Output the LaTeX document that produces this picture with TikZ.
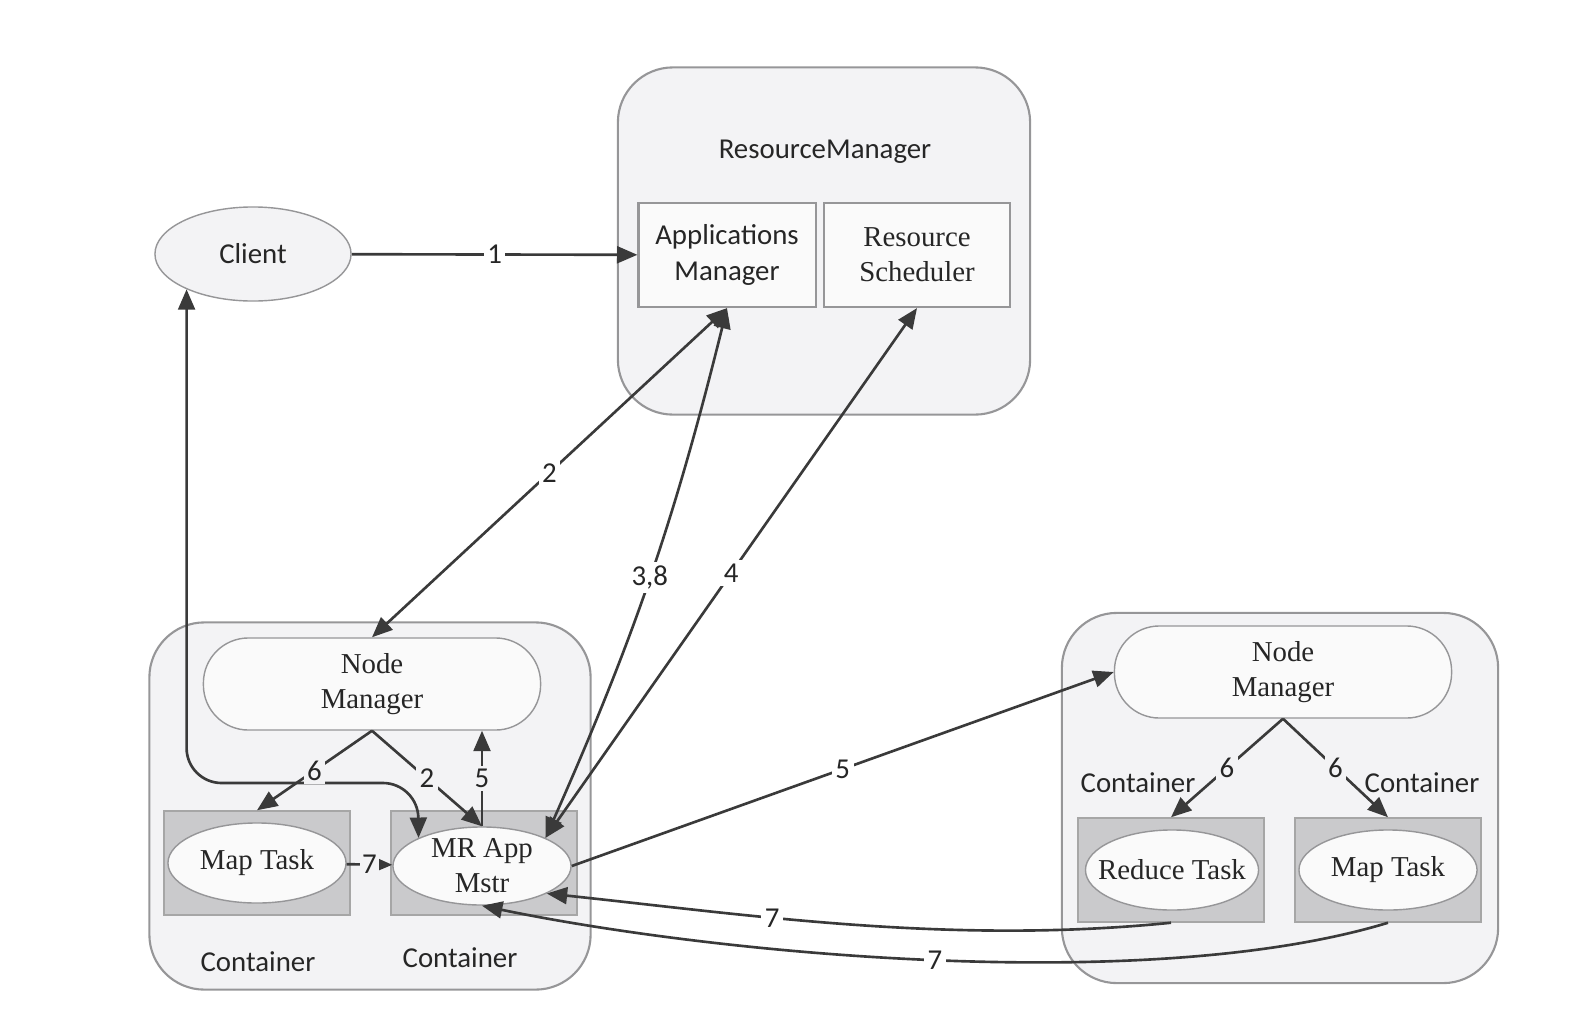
\documentclass[tikz,border=0pt]{standalone}
\usepackage{fontspec}
\setmainfont{Carlito}
\newfontfamily\timesfont{Liberation Serif}
\usetikzlibrary{arrows.meta,shapes.geometric}

\definecolor{hostbg}{RGB}{243,243,245}
\definecolor{boxbg}{RGB}{202,202,204}
\definecolor{linec}{RGB}{58,58,58}
\definecolor{edgec}{RGB}{150,150,152}

\begin{document}
\begin{tikzpicture}[x=0.01cm, y=-0.01cm,
    font=\fontsize{8.2}{10}\selectfont, text=black!85,
    >={Triangle[length=5.8pt,width=4.8pt]},
    host/.style={draw=edgec, fill=hostbg, rounded corners=0.55cm, line width=0.6pt},
    mgrbox/.style={draw=edgec, fill=black!2, minimum height=1.04cm, align=center, line width=0.6pt},
    pill/.style={draw=edgec, fill=black!2, rounded corners=0.45cm, minimum width=3.37cm, minimum height=0.92cm,
        align=center, font=\timesfont\fontsize{8.2}{10}\selectfont},
    cbox/.style={draw=black!35, fill=boxbg, minimum width=1.86cm, minimum height=1.04cm},
    task/.style={ellipse, draw=edgec, fill=black!2, minimum width=1.78cm, minimum height=0.8cm,
        inner xsep=-4pt, inner ysep=-3pt, align=center, font=\timesfont\fontsize{8.2}{10}\selectfont},
    flow/.style={draw=linec, line width=0.75pt},
    num/.style={fill=white, inner sep=1pt}]

    \useasboundingbox (0,0) rectangle (1582,1012);

    % ResourceManager
    \node[host, minimum width=4.12cm, minimum height=3.47cm] (rm) at (824,241) {};
    \node (rmtitle) at (825,152) {ResourceManager};
    \node[mgrbox, minimum width=1.77cm] (appmgr) at (727,255) {Applications\\Manager};
    \node[mgrbox, minimum width=1.86cm, font=\timesfont\fontsize{8.2}{10}\selectfont] (sched) at (917,255) {Resource\\Scheduler};

    % Client
    \node[ellipse, draw=edgec, fill=hostbg, minimum width=1.96cm, minimum height=0.94cm] (client) at (253,254) {Client};

    % Left host
    \node[host, minimum width=4.41cm, minimum height=3.67cm] (hostl) at (370,806) {};
    \node[pill] (nml) at (372,684) {Node\\Manager};
    \node[cbox] (maplbox) at (257,863) {};
    \node[task] (mapl) at (257,863) {Map Task};
    \node[cbox] (mrbox) at (484,863) {};
    \node[task, minimum height=0.78cm] (mrapp) at (482,866) {MR App\\Mstr};

    % Right host
    \node[host, minimum width=4.36cm, minimum height=3.70cm] (hostr) at (1280,798) {};
    \node[pill] (nmr) at (1283,672) {Node\\Manager};
    \node[cbox] (redbox) at (1171,870) {};
    \node[task, minimum width=1.73cm] (reduce) at (1172,870) {Reduce Task};
    \node[cbox] (maprbox) at (1388,870) {};
    \node[task] (mapr) at (1388,870) {Map Task};

    \foreach \x/\y/\n in {258/962/contl1, 460/958/contl2, 1138/783/contr1, 1422/783/contr2}
        \node (\n) at (\x,\y) {Container};

    % Client and ResourceManager links
    \draw[flow, ->] (client) -- node[num] {1} (appmgr);
    \draw[flow, <->] (appmgr.south) -- node[num] {2} (nml.north);
    \draw[flow, <->] (mrapp.north east) to[bend right=5] node[num] {3,8} (appmgr.south);
    \draw[flow, <->] (mrapp.north east) -- node[num] {4} (sched.south);
    \draw[flow, ->] (mrapp.east) -- node[num] {5} (nmr.west);

    % Inside left host
    \coordinate (turn) at (418,783);
    \draw[flow, <->, rounded corners=0.35cm] (client.208) |- (turn) -- (mrapp.north west);
    \draw[flow, ->] (nml.south) -- node[num, fill=hostbg] {6} (maplbox.north);
    \draw[flow, ->] (nml.south) -- node[num, fill=hostbg] {2} (mrapp.north);
    \draw[flow, ->] (mrapp.north) -- node[num, fill=hostbg] {5} (mrapp.north |- nml.south);
    \draw[flow, ->] (mapl) -- node[num, fill=hostbg, inner sep=0.5pt] {7} (mrapp);

    % Inside right host
    \foreach \t in {redbox, maprbox}
        \draw[flow, ->] (nmr.south) -- node[num, fill=hostbg] {6} (\t.north);

    % Results back to MR App Mstr
    \draw[flow, ->] (redbox.south) .. controls (950,945) and (750,915) .. node[num, pos=0.63] {7} (mrapp.-23);
    \draw[flow, ->] (maprbox.south) .. controls (1150,995) and (720,955) .. node[num] {7} (mrapp.south);

\end{tikzpicture}
\end{document}
